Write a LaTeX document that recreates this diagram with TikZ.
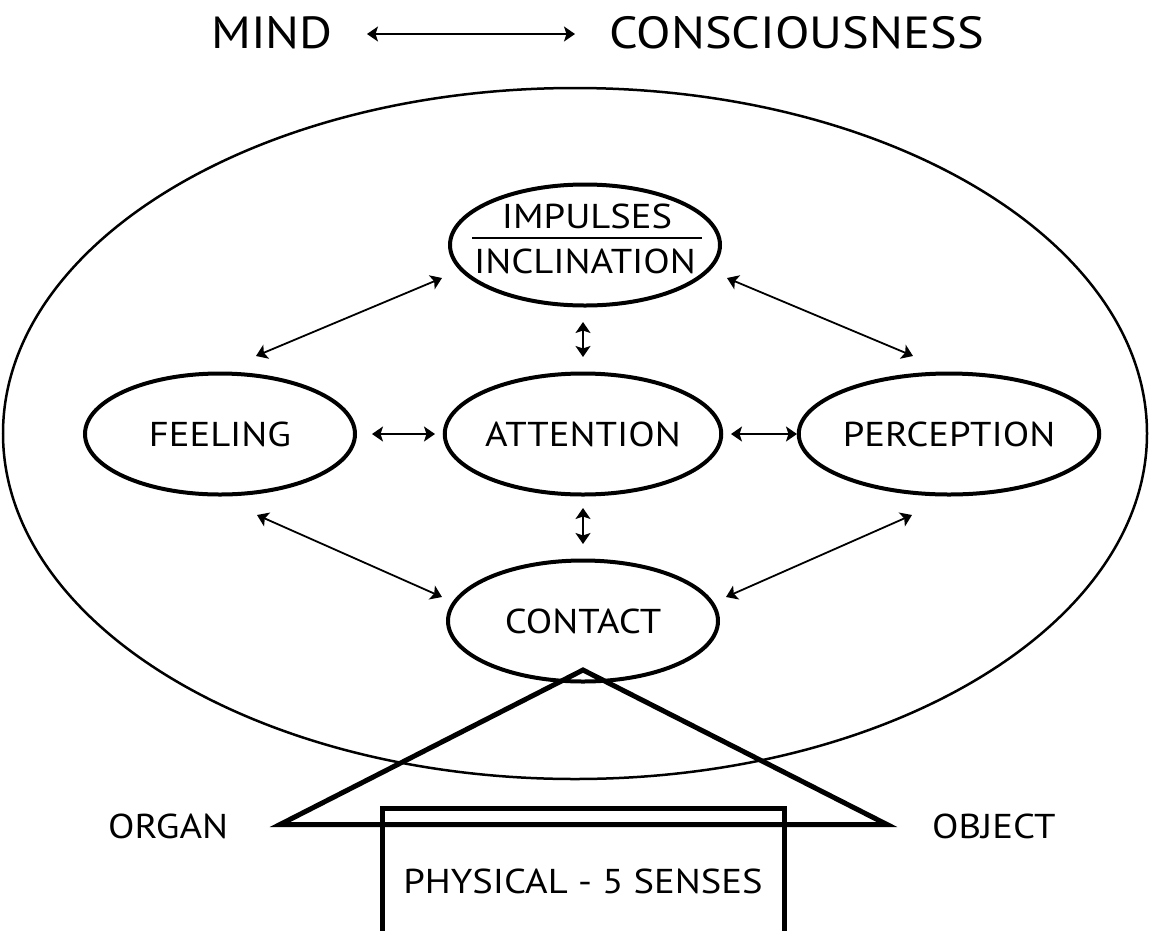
\documentclass[tikz,border=0pt]{standalone}
\usepackage{fontspec}
\setmainfont[FakeStretch=1.12]{PT Sans}
\usetikzlibrary{shapes.geometric,arrows.meta,calc}
\begin{document}
\begin{tikzpicture}[x=1pt,y=-1pt,
  ell/.style={draw,shape=ellipse,line width=4pt,minimum width=270pt,minimum height=121pt,inner sep=0pt,font=\fontsize{34.5}{38}\selectfont},
  lbl/.style={inner sep=0pt,font=\fontsize{34.5}{38}\selectfont},
  ttl/.style={inner sep=0pt,font=\fontsize{45}{50}\selectfont},
  arr/.style={line width=1.8pt,{Stealth[length=11pt,width=15pt,inset=2.5pt]}-{Stealth[length=11pt,width=15pt,inset=2.5pt]}},
  thick5/.style={line width=5pt}]
\useasboundingbox (0,0) rectangle (1149,930);
\fill[white] (0,0) rectangle (1149,930);
% title
\node[ttl,anchor=base west] (mind) at (211,48) {MIND};
\node[ttl,anchor=base west] (cons) at (609,48) {CONSCIOUSNESS};
\draw[arr] ($(mind.base west)+(156,-14)$) -- ($(cons.base west)+(-34,-14)$);
% outer ellipse
\node[draw,shape=ellipse,line width=2.5pt,minimum width=1144pt,minimum height=691pt,inner sep=0pt] (outer) at (575,433.5) {};
% inner ellipses
\node[ell] (imp) at (585,245) {};
\node[lbl,anchor=base] (impt) at (587,228) {IMPULSES};
\node[lbl,anchor=base] (inct) at (585,273) {INCLINATION};
\draw[line width=1.5pt] ($(imp)+(-113,-7)$) -- ($(imp)+(117,-7)$);
\node[ell] (feel) at (220,434) {FEELING};
\node[ell] (att) at (583,434) {ATTENTION};
\node[ell] (perc) at (949,434) {PERCEPTION};
\node[ell] (con) at (583,621) {CONTACT};
% arrows
\draw[arr] ($(imp)+(-143,33)$) -- ($(feel)+(36,-78)$);
\draw[arr] ($(imp)+(142,33)$) -- ($(perc)+(-36,-78)$);
\draw[arr] ($(feel)+(37,81)$) -- ($(con)+(-141,-24)$);
\draw[arr] ($(perc)+(-37,81)$) -- ($(con)+(143,-24)$);
\draw[arr] ($(feel)+(152,0)$) -- ($(att)+(-148,0)$);
\draw[arr] ($(att)+(148,0)$) -- ($(perc)+(-152,0)$);
\draw[arr] ($(att)+(0,-112)$) -- ($(att)+(0,-77)$);
\draw[arr] ($(att)+(0,74)$) -- ($(att)+(0,110)$);
% triangle
\coordinate (apex) at (583,670);
\coordinate (bl) at (280,824.5);
\coordinate (br) at (887,824.5);
\draw[thick5,line join=miter] (bl) -- (apex) -- (br) -- cycle;
% box
\node[draw,thick5,minimum width=402pt,minimum height=160pt,inner sep=0pt,anchor=north] (phys) at (583.5,805.5) {};
\node[lbl,anchor=base] (physt) at (583,893) {PHYSICAL - 5 SENSES};
\node[lbl,anchor=base west] (organ) at (108,838) {ORGAN};
\node[lbl,anchor=base west] (object) at (932,838) {OBJECT};
\end{tikzpicture}
\end{document}
